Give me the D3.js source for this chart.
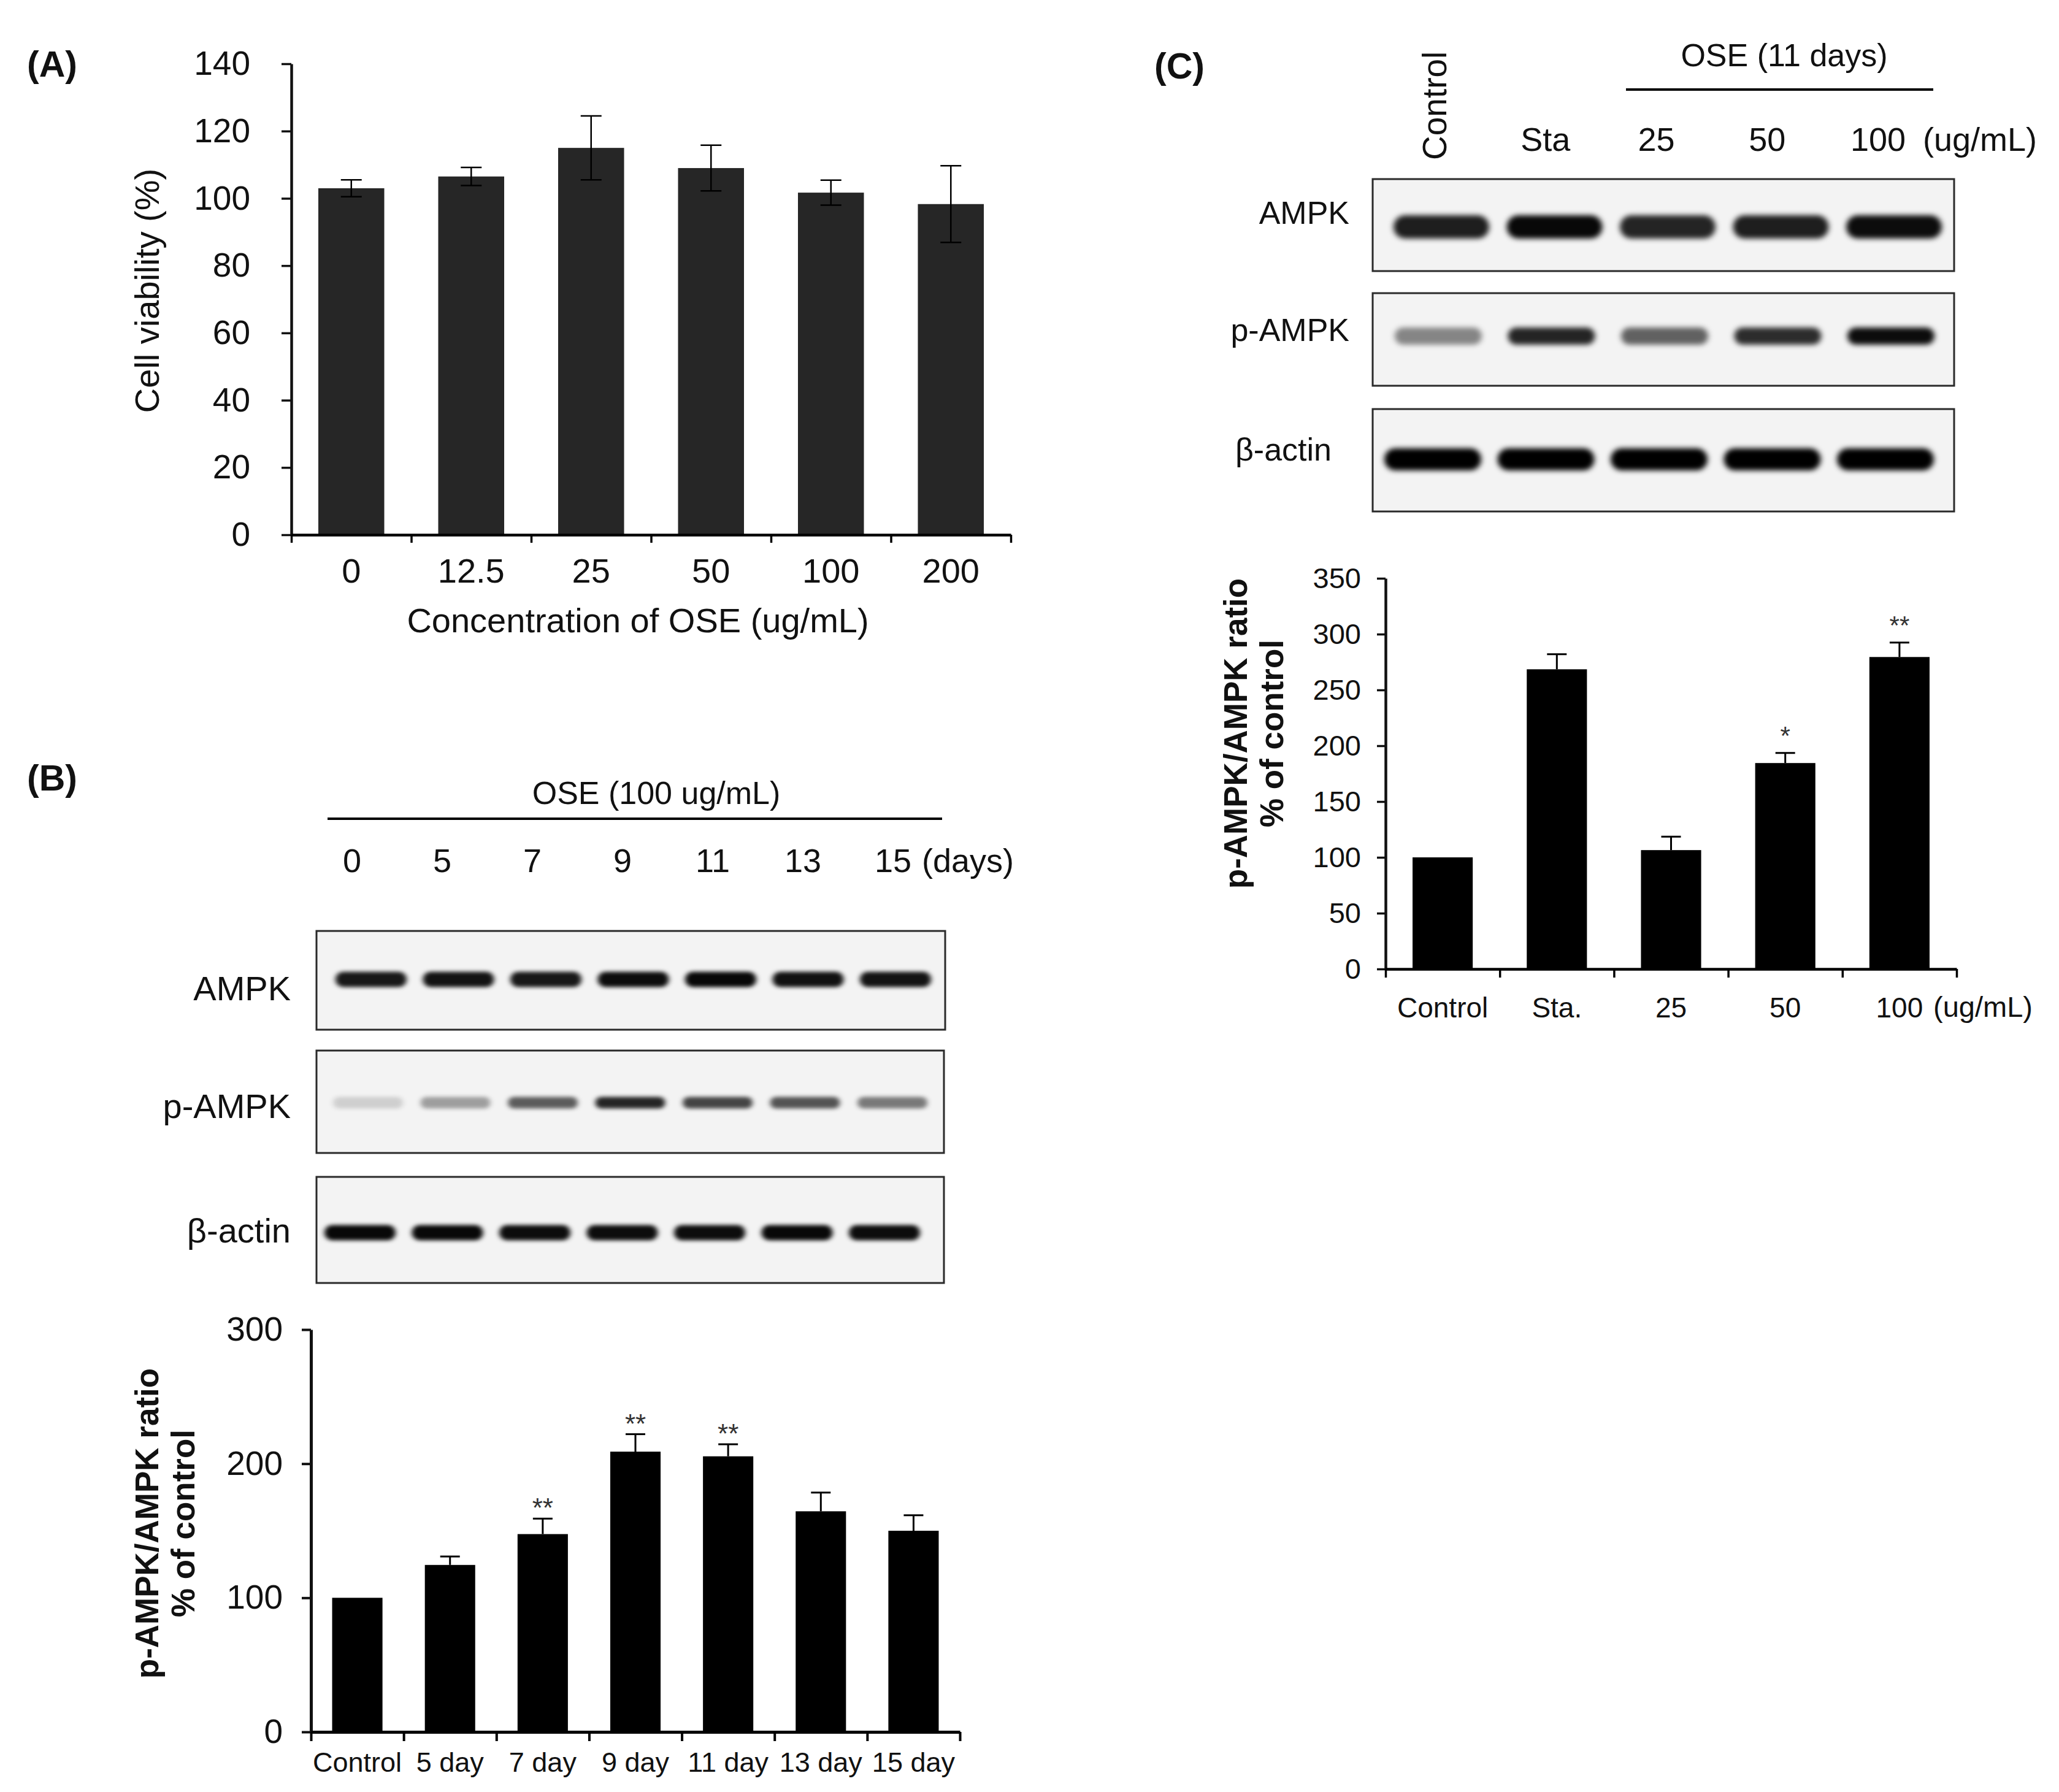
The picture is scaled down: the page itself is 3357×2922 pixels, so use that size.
<!DOCTYPE html>
<html>
<head>
<meta charset="utf-8">
<script src="https://cdn.jsdelivr.net/npm/d3@7"></script>
<style>
  body { margin: 0; background: #fff; }
  text { font-family: "Liberation Sans", Arial, sans-serif; }
</style>
</head>
<body>
<div id="fig"></div>
<script>
// ---- panel A: cell viability ----
var concLabels = ["0", "12.5", "25", "50", "100", "200"];
var viability = [103, 106.5, 115, 109, 101.7, 98.3];
var viabilityErr = [2.5, 2.7, 9.5, 6.8, 3.7, 11.4];
var viabilityTicks = [0, 20, 40, 60, 80, 100, 120, 140];

// ---- panel B: time course ----
var dayLanes = ["0", "5", "7", "9", "11", "13", "15"];
var dayLabels = ["Control", "5 day", "7 day", "9 day", "11 day", "13 day", "15 day"];
var dayRatio = [100, 124.5, 147.5, 209, 205.5, 164.5, 150];
var dayErr = [0, 6.3, 11.5, 13, 9, 14, 11.5];
var daySig = ["", "", "**", "**", "**", "", ""];
var dayTicks = [0, 100, 200, 300];
// blot band intensities (0..1)
var bAmpk = [0.9, 0.92, 0.9, 0.95, 0.97, 0.93, 0.92];
var bPampk = [0.15, 0.35, 0.62, 0.85, 0.72, 0.66, 0.5];
var bActin = [0.97, 0.97, 0.95, 0.95, 0.95, 0.97, 0.95];

// ---- panel C: dose response ----
var doseLanes = ["Control", "Sta", "25", "50", "100"];
var doseLabels = ["Control", "Sta.", "25", "50", "100"];
var doseRatio = [100, 268.5, 106.5, 184.5, 279.5];
var doseErr = [0, 13.5, 12, 9, 13];
var doseSig = ["", "", "", "*", "**"];
var doseTicks = [0, 50, 100, 150, 200, 250, 300, 350];
var cAmpk = [0.88, 0.97, 0.85, 0.88, 0.95];
var cPampk = [0.45, 0.85, 0.6, 0.82, 0.95];
var cActin = [1, 1, 1, 1, 1];

var W = 3357, H = 2922;
var FONT = '"Liberation Sans", Arial, sans-serif';

var svg = d3.select("#fig")
            .append("svg")
            .attr("width", W)
            .attr("height", H)
            .style("background", "#fff");

var defs = svg.append("defs");
defs.append("filter").attr("id", "blurS")
    .attr("x", "-30%").attr("y", "-150%").attr("width", "160%").attr("height", "400%")
    .append("feGaussianBlur").attr("stdDeviation", "4 3");
defs.append("filter").attr("id", "blurL")
    .attr("x", "-30%").attr("y", "-150%").attr("width", "160%").attr("height", "400%")
    .append("feGaussianBlur").attr("stdDeviation", "5 4");

function label(txt, x, y, size, opts) {
  opts = opts || {};
  var t = svg.append("text")
     .attr("x", x).attr("y", y)
     .attr("font-size", size)
     .attr("font-weight", opts.bold ? "bold" : "normal")
     .attr("text-anchor", opts.anchor || "middle")
     .attr("fill", opts.fill || "#111")
     .text(txt);
  if (opts.dy) t.attr("dy", opts.dy);
  if (opts.rotate) t.attr("transform", "rotate(-90," + x + "," + y + ")");
  return t;
}

// bar chart with band-boundary ticks
function barChart(o) {
  var g = svg.append("g");
  var n = o.labels.length;
  var rows = o.labels.map(function(l, i) {
    return {label: l, v: o.values[i], e: o.errs[i], sig: o.sig ? o.sig[i] : ""};
  });

  var x = d3.scaleBand()
            .domain(o.labels)
            .range([o.left, o.right])
            .paddingInner(o.pad)
            .paddingOuter(o.pad / 2);

  var y = d3.scaleLinear()
            .domain([0, o.max])
            .range([o.bottom, o.top]);

  var cx = function(d) { return x(d.label) + x.bandwidth() / 2; };

  // bars
  g.selectAll(".bar")
   .data(rows)
   .enter()
   .append("rect")
   .attr("x", function(d) { return x(d.label); })
   .attr("y", function(d) { return y(d.v); })
   .attr("width", x.bandwidth())
   .attr("height", function(d) { return y(0) - y(d.v); })
   .attr("fill", o.fill);

  // error bars
  var eb = g.selectAll(".err")
            .data(rows.filter(function(d) { return d.e > 0; }))
            .enter()
            .append("g");
  eb.append("line")
    .attr("x1", cx).attr("x2", cx)
    .attr("y1", function(d) { return o.both ? y(d.v - d.e) : y(d.v); })
    .attr("y2", function(d) { return y(d.v + d.e); })
    .attr("stroke", "#000").attr("stroke-width", o.errW);
  eb.append("line")
    .attr("x1", function(d) { return cx(d) - o.cap; })
    .attr("x2", function(d) { return cx(d) + o.cap; })
    .attr("y1", function(d) { return y(d.v + d.e); })
    .attr("y2", function(d) { return y(d.v + d.e); })
    .attr("stroke", "#000").attr("stroke-width", o.errW);
  if (o.both) {
    eb.append("line")
      .attr("x1", function(d) { return cx(d) - o.cap; })
      .attr("x2", function(d) { return cx(d) + o.cap; })
      .attr("y1", function(d) { return y(d.v - d.e); })
      .attr("y2", function(d) { return y(d.v - d.e); })
      .attr("stroke", "#000").attr("stroke-width", o.errW);
  }

  // significance marks
  g.selectAll(".sig")
   .data(rows.filter(function(d) { return d.sig; }))
   .enter()
   .append("text")
   .attr("x", cx)
   .attr("y", function(d) { return y(d.v + d.e) - o.sigOff; })
   .attr("text-anchor", "middle")
   .attr("font-size", o.sigSize)
   .attr("fill", "#333")
   .text(function(d) { return d.sig; });

  // y axis
  var ya = g.append("g")
            .attr("transform", "translate(" + o.left + ",0)")
            .call(d3.axisLeft(y).tickValues(o.ticks).tickSize(o.ytick).tickPadding(o.yPad).tickSizeOuter(0));
  ya.attr("font-size", o.yFont).attr("font-family", FONT).attr("color", "#111");
  ya.select(".domain").attr("stroke-width", o.axisW);
  ya.selectAll(".tick line").attr("stroke-width", o.tickW);

  // x axis line + ticks on band edges
  var edges = d3.scaleLinear().domain([0, n]).range([o.left, o.right]);
  var xa = g.append("g")
            .attr("transform", "translate(0," + o.bottom + ")")
            .call(d3.axisBottom(edges).tickValues(d3.range(n + 1)).tickFormat("").tickSize(o.xtick).tickSizeOuter(0));
  xa.attr("color", "#000");
  xa.select(".domain").attr("stroke-width", o.axisW);
  xa.selectAll(".tick line").attr("stroke-width", o.tickW);

  // category labels
  var xl = g.append("g")
            .attr("transform", "translate(0," + o.bottom + ")")
            .call(d3.axisBottom(x).tickSize(0).tickPadding(o.xPad));
  xl.select(".domain").remove();
  xl.attr("font-size", o.xFont).attr("font-family", FONT).attr("color", "#111");

  return {x: x, y: y};
}

// western blot strip
function blot(o) {
  var g = svg.append("g");
  g.append("rect")
   .attr("x", o.left).attr("y", o.top)
   .attr("width", o.right - o.left).attr("height", o.bottom - o.top)
   .attr("fill", "#f3f3f3")
   .attr("stroke", "#2a2a2a").attr("stroke-width", 3);

  g.selectAll(".band")
   .data(o.intens)
   .enter()
   .append("rect")
   .attr("x", function(d, i) { return o.lane(o.lanes[i]) + o.shift - o.bw / 2; })
   .attr("y", o.cy - o.bh / 2)
   .attr("width", o.bw)
   .attr("height", o.bh)
   .attr("rx", o.bh / 2)
   .attr("fill", "#000")
   .attr("fill-opacity", function(d) { return d; })
   .attr("filter", "url(#" + o.blur + ")");

  label(o.name, o.labelX, o.labelY, o.font, {anchor: "end", dy: "0.35em"});
}

// ================= Panel A =================
label("(A)", 44, 125, 59, {anchor: "start", bold: true});
barChart({
  labels: concLabels, values: viability, errs: viabilityErr, both: true,
  ticks: viabilityTicks, max: 140,
  left: 475, right: 1648, top: 104, bottom: 872,
  pad: 0.45, fill: "#262626",
  errW: 2.5, cap: 17,
  ytick: 16, yPad: 51, yFont: 55,
  xtick: 13, xPad: 38, xFont: 56,
  axisW: 4.5, tickW: 3.5
});
label("Cell viability (%)", 239, 474, 56, {rotate: true, dy: "0.35em"});
label("Concentration of OSE (ug/mL)", 1040, 1011, 56, {dy: "0.35em"});

// ================= Panel B =================
label("(B)", 44, 1289, 59, {anchor: "start", bold: true});
label("OSE (100 ug/mL)", 1070, 1293, 52, {dy: "0.35em"});
svg.append("line")
   .attr("x1", 534).attr("x2", 1536).attr("y1", 1335).attr("y2", 1335)
   .attr("stroke", "#000").attr("stroke-width", 4);

var bLabelX = d3.scalePoint().domain(dayLanes).range([574, 1456]);
svg.selectAll(".bLane")
   .data(dayLanes)
   .enter()
   .append("text")
   .attr("x", function(d) { return bLabelX(d); })
   .attr("y", 1403)
   .attr("dy", "0.35em")
   .attr("text-anchor", "middle")
   .attr("font-size", 54)
   .attr("fill", "#111")
   .text(function(d) { return d; });
label("(days)", 1503, 1403, 54, {anchor: "start", dy: "0.35em"});

var bLane = d3.scalePoint().domain(dayLanes).range([605, 1460]);
blot({name: "AMPK", intens: bAmpk, lanes: dayLanes, lane: bLane, shift: 0,
      left: 516, right: 1541, top: 1518, bottom: 1679, cy: 1597,
      bw: 116, bh: 25, blur: "blurS", labelX: 474, labelY: 1611, font: 56});
blot({name: "p-AMPK", intens: bPampk, lanes: dayLanes, lane: bLane, shift: -5,
      left: 516, right: 1539, top: 1713, bottom: 1880, cy: 1798,
      bw: 114, bh: 19, blur: "blurS", labelX: 474, labelY: 1803, font: 56});
blot({name: "\u03b2-actin", intens: bActin, lanes: dayLanes, lane: bLane, shift: -18,
      left: 516, right: 1539, top: 1919, bottom: 2092, cy: 2010,
      bw: 116, bh: 25, blur: "blurS", labelX: 474, labelY: 2006, font: 56});

barChart({
  labels: dayLabels, values: dayRatio, errs: dayErr, both: false,
  sig: daySig, sigOff: 2, sigSize: 44,
  ticks: dayTicks, max: 300,
  left: 507, right: 1565, top: 2168, bottom: 2824,
  pad: 0.457, fill: "#000",
  errW: 3, cap: 16,
  ytick: 15, yPad: 31, yFont: 55,
  xtick: 15, xPad: 33, xFont: 45,
  axisW: 5, tickW: 4
});
label("p-AMPK/AMPK ratio", 239, 2484, 53, {rotate: true, bold: true, dy: "0.35em"});
label("% of control", 298, 2484, 53, {rotate: true, bold: true, dy: "0.35em"});

// ================= Panel C =================
label("(C)", 1882, 128, 59, {anchor: "start", bold: true});
label("OSE (11 days)", 2909, 90, 52, {dy: "0.35em"});
svg.append("line")
   .attr("x1", 2651).attr("x2", 3152).attr("y1", 146).attr("y2", 146)
   .attr("stroke", "#000").attr("stroke-width", 4);

var cLabelX = d3.scalePoint().domain(doseLanes).range([2339, 3062]);
svg.selectAll(".cLane")
   .data(doseLanes)
   .enter()
   .append("text")
   .attr("text-anchor", function(d, i) { return i === 0 ? "start" : "middle"; })
   .attr("font-size", function(d, i) { return i === 0 ? 55 : 54; })
   .attr("fill", "#111")
   .attr("dy", "0.35em")
   .attr("transform", function(d, i) {
     return i === 0 ? "translate(" + cLabelX(d) + ",261) rotate(-90)"
                    : "translate(" + cLabelX(d) + ",227)";
   })
   .text(function(d) { return d; });
label("(ug/mL)", 3135, 227, 54, {anchor: "start", dy: "0.35em"});

var cLane = d3.scalePoint().domain(doseLanes).range([2350, 3088]);
blot({name: "AMPK", intens: cAmpk, lanes: doseLanes, lane: cLane, shift: 0,
      left: 2238, right: 3186, top: 292, bottom: 442, cy: 370,
      bw: 156, bh: 38, blur: "blurL", labelX: 2200, labelY: 347, font: 52});
blot({name: "p-AMPK", intens: cPampk, lanes: doseLanes, lane: cLane, shift: -5,
      left: 2238, right: 3186, top: 478, bottom: 629, cy: 548,
      bw: 142, bh: 28, blur: "blurL", labelX: 2200, labelY: 538, font: 52});
blot({name: "\u03b2-actin", intens: cActin, lanes: doseLanes, lane: cLane, shift: -14,
      left: 2238, right: 3186, top: 667, bottom: 834, cy: 749,
      bw: 158, bh: 36, blur: "blurL", labelX: 2171, labelY: 733, font: 52});

barChart({
  labels: doseLabels, values: doseRatio, errs: doseErr, both: false,
  sig: doseSig, sigOff: 14, sigSize: 42,
  ticks: doseTicks, max: 350,
  left: 2259, right: 3190, top: 943, bottom: 1580,
  pad: 0.473, fill: "#000",
  errW: 3, cap: 16,
  ytick: 14, yPad: 26, yFont: 47,
  xtick: 14, xPad: 46, xFont: 46,
  axisW: 4.5, tickW: 3.5
});
label("(ug/mL)", 3152, 1642, 47, {anchor: "start", dy: "0.35em"});
label("p-AMPK/AMPK ratio", 2014, 1196, 53, {rotate: true, bold: true, dy: "0.35em"});
label("% of control", 2073, 1196, 53, {rotate: true, bold: true, dy: "0.35em"});
</script>
</body>
</html>
